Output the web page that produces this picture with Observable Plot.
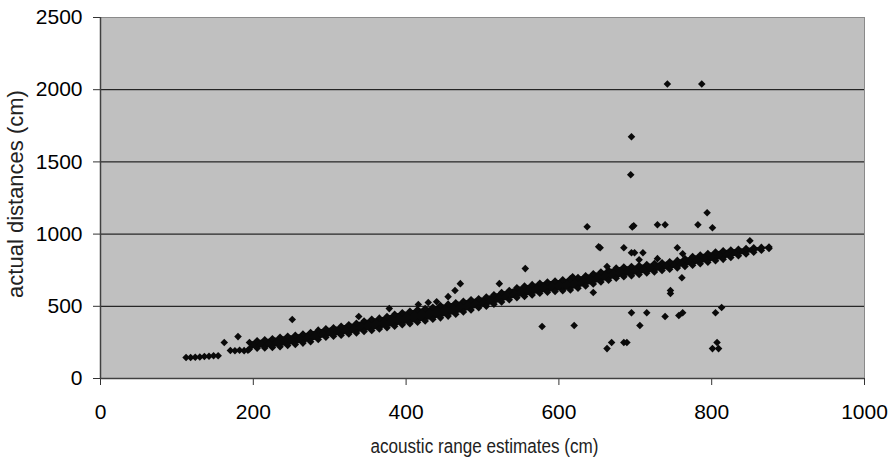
<!DOCTYPE html>
<html><head><meta charset="utf-8">
<script src="https://cdn.jsdelivr.net/npm/d3@7"></script>
<script src="https://cdn.jsdelivr.net/npm/@observablehq/plot@0.6"></script>
<style>body{margin:0;background:#fff}</style>
</head><body><div id="chart"></div>
<script>
// Axis ticks and titles
const xTicks = [0, 200, 400, 600, 800, 1000];
const yTicks = [0, 500, 1000, 1500, 2000, 2500];
const gridY = [500, 1000, 1500, 2000];
const xTitle = ["acoustic range estimates (cm)"];
const yTitle = ["actual distances (cm)"];

// Small clusters at short range
const nearX = [112, 118, 124, 130, 136, 142, 148, 154, 170, 176, 182, 188, 193];
const nearY = [146, 145, 147, 149, 152, 154, 157, 157, 194, 192, 195, 193, 196];

// Dense main band: lower and upper edge of the point cloud
const bandX = [195,205,215,225,235,245,255,265,275,285,295,305,315,325,335,345,355,365,375,385,395,405,415,425,435,445,455,465,475,485,495,505,515,525,535,545,555,565,575,585,595,605,615,625,635,645,655,665,675,685,695,705,715,725,735,745,755,765,775,785,795,805,815,825,835,845,855,865,875];
const bandLow = [205,210,212,215,220,228,235,245,255,270,285,292,300,308,315,325,333,343,352,362,372,380,390,398,410,420,432,445,460,475,490,500,515,530,545,560,568,578,590,598,603,608,613,625,640,655,668,680,695,705,712,720,730,738,748,757,765,775,785,795,805,815,825,838,850,862,875,888,900];
const bandHigh = [250,262,268,275,285,292,300,308,318,335,345,352,362,372,382,398,410,418,430,445,455,465,478,485,493,505,515,525,535,545,552,565,580,595,610,628,640,650,660,668,675,683,690,700,712,725,738,750,765,772,775,782,790,796,802,808,818,830,845,855,865,876,884,890,895,900,905,908,910];

// Scattered outliers
const outX = [162,180,251,338,378,416,429,440,455,464,471,522,556,578,618,620,637,645,652,654,663,663,669,685,685,689,694,695,695,696,698,699,705,706,710,715,729,729,739,739,742,746,746,755,757,761,762,762,782,787,794,801,801,805,807,809,813,850,695];
const outY = [249,290,408,429,484,512,526,532,567,609,657,657,761,360,705,367,1051,595,913,906,775,207,249,906,249,249,1411,871,456,1050,1058,871,823,367,871,456,1065,830,1065,429,2040,609,588,906,436,698,864,456,1065,2040,1148,1044,207,456,249,207,491,954,1674];

const band = bandX.map((x, i) => ({x, lo: bandLow[i], hi: bandHigh[i]}));
const near = nearX.map((x, i) => ({x, y: nearY[i]}));
const outs = outX.map((x, i) => ({x, y: outY[i]}));

const dotOpts = {symbol: "diamond2", r: 3.4, fill: "#0a0a0a", stroke: "none"};

const chart = Plot.plot({
  width: 895, height: 459,
  marginLeft: 100, marginRight: 31, marginTop: 17, marginBottom: 81,
  style: {fontFamily: "'Liberation Sans', Arial, sans-serif", fontSize: "21px", color: "#000", background: "#fff", overflow: "visible"},
  x: {domain: [0, 1000]},
  y: {domain: [0, 2500]},
  marks: [
    Plot.frame({fill: "#c0c0c0", stroke: "#8a8a8a"}),
    Plot.ruleY(gridY, {stroke: "#000", strokeWidth: 1}),
    Plot.axisX(xTicks, {tickSize: 7, tickPadding: 19, tickFormat: "d", label: null, stroke: "#333", fontSize: 21}),
    Plot.axisY(yTicks, {tickSize: 7, tickPadding: 11, tickFormat: "d", label: null, stroke: "#333", fontSize: 21}),
    Plot.ruleX([0], {stroke: "#404040", strokeWidth: 1.5}),
    Plot.ruleY([0], {stroke: "#404040", strokeWidth: 1.5}),
    Plot.areaY(band, {x: "x", y1: "lo", y2: "hi", fill: "#0a0a0a"}),
    Plot.dot(band, {x: "x", y: "lo", ...dotOpts}),
    Plot.dot(band, {x: "x", y: "hi", ...dotOpts}),
    Plot.dot(near, {x: "x", y: "y", ...dotOpts}),
    Plot.dot(outs, {x: "x", y: "y", ...dotOpts}),
    Plot.text(xTitle, {text: d => d, frameAnchor: "bottom", lineAnchor: "bottom", textAnchor: "middle", dx: 2, dy: 74, fontSize: 19.5, fill: "#222", className: "xtitle"}),
    Plot.text(yTitle, {text: d => d, frameAnchor: "left", lineAnchor: "bottom", textAnchor: "middle", rotate: -90, dx: -78, dy: -4, fontSize: 22, fill: "#222"})
  ]
});
document.getElementById("chart").appendChild(chart);
// compress the x-axis title horizontally to the reference's width
chart.querySelectorAll(".xtitle text").forEach(t => {
  t.setAttribute("textLength", 228);
  t.setAttribute("lengthAdjust", "spacingAndGlyphs");
});
</script>
</body></html>
